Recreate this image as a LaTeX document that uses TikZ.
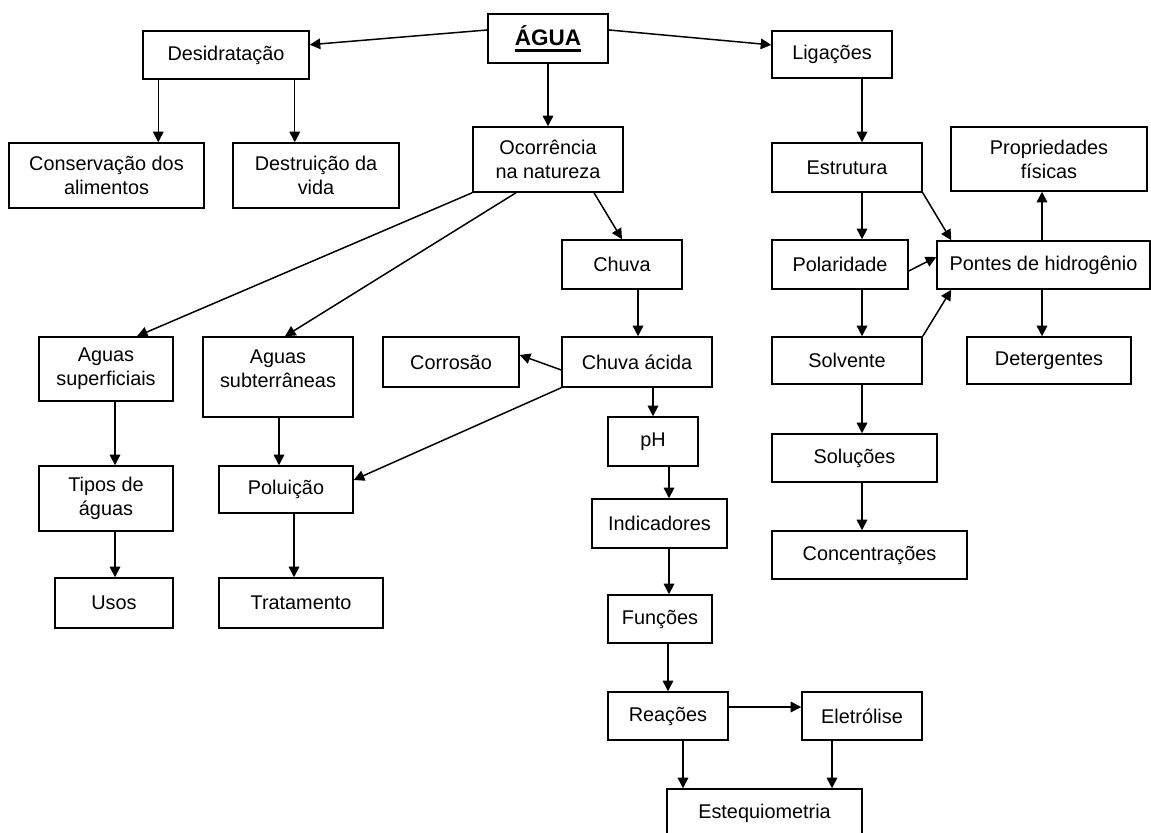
\documentclass[tikz,border=0pt]{standalone}
\usepackage{fontspec}
\setmainfont{Liberation Sans}
\usetikzlibrary{arrows.meta,calc}
\newcommand{\thickul}[1]{\vtop{\hbox{#1}\kern2.2pt\hrule height1.2pt}}
\tikzset{concept/.style={draw,line width=0.85pt,align=center,inner sep=2pt,font=\fontsize{11.3}{13.6}\selectfont},sz/.style 2 args={minimum width=#1*0.02cm,minimum height=#2*0.02cm},edge/.style={-{Triangle[length=6pt,width=6pt]},line width=0.85pt}}

\begin{document}
\begin{tikzpicture}[x=0.02cm,y=-0.02cm]
\clip (0,0) rectangle (1151,832);
\fill[white] (0,0) rectangle (1151,832);
% top row
\node[concept,sz={120}{49},font=\fontsize{12.8}{15}\selectfont\bfseries] (agua) at (548,38.5) {\thickul{ÁGUA}};
\node[concept,sz={166}{48}] (desid) at (226,55) {Desidratação};
\node[concept,sz={120}{47}] (ligac) at (832,54.5) {Ligações};
\node[concept,sz={195}{65}] (conserv) at (106.5,175.5) {Conservação dos\\alimentos};
\node[concept,sz={166}{65}] (destr) at (316,175.5) {Destruição da\\vida};
\node[concept,sz={150}{65}] (ocorr) at (548,159.5) {Ocorrência\\na natureza};
\node[concept,sz={150}{49}] (estrut) at (847,167.5) {Estrutura};
\node[concept,sz={196}{64}] (propr) at (1049,159) {Propriedades\\físicas};
\node[concept,sz={120}{49}] (chuva) at (622,264.5) {Chuva};
\node[concept,sz={136}{49}] (polar) at (840,264.5) {Polaridade};
\node[concept,sz={213}{48}] (pontes) at (1043.5,265) {Pontes de hidrogênio};
% middle
\node[concept,sz={134}{64}] (asup) at (106,369) {Aguas\\superficiais};
\node[concept,sz={150}{80}] (asub) at (278,377) {Aguas\\subterrâneas\rule[-9.5pt]{0pt}{9.5pt}};
\node[concept,sz={136}{50}] (corros) at (451,362) {Corrosão};
\node[concept,sz={150}{50}] (chacid) at (637,362) {Chuva ácida};
\node[concept,sz={150}{47}] (solv) at (847,360.5) {Solvente};
\node[concept,sz={164}{47}] (deterg) at (1049,360.5) {Detergentes};
\node[concept,sz={90}{49}] (ph) at (653,441.5) {pH};
\node[concept,sz={134}{65}] (tipos) at (106,498.5) {Tipos de\\águas};
\node[concept,sz={134}{47}] (polui) at (286,489.5) {Poluição};
\node[concept,sz={165}{48}] (solu) at (854.5,458) {Soluções};
\node[concept,sz={135}{49}] (indic) at (659.5,523.5) {Indicadores};
\node[concept,sz={195}{48}] (conc) at (869.5,555) {Concentrações};
% bottom
\node[concept,sz={118}{50}] (usos) at (114,603) {Usos};
\node[concept,sz={164}{50}] (trat) at (301,603) {Tratamento};
\node[concept,sz={104}{48}] (func) at (660,619) {Funções};
\node[concept,sz={120}{48}] (reac) at (668,716) {Reações};
\node[concept,sz={120}{48}] (eletr) at (862,716) {Eletrólise};
\node[concept,sz={195}{48}] (esteq) at (764.5,813) {Estequiometria};
% links
\draw[edge] (agua.172) -- (desid.7);\draw[edge] (agua.8) -- (ligac.171);\draw[edge] (agua.south) -- (ocorr.north);
\draw[edge] ($(desid.south west)+(16,0)$) coordinate (p) -- (p |- conserv.north);
\draw[edge] ($(desid.south east)+(-15,0)$) coordinate (p) -- (p |- destr.north);
\draw[edge] (ocorr.south west) -- ($(asup.north)+(31,0)$);
\draw[edge] ($(ocorr.south)+(-32,0)$) -- ($(asub.north)+(7,0)$);
\draw[edge] ($(ocorr.south)+(46,0)$) -- (chuva.north);
\draw[edge] ($(chuva.south)+(16,0)$) coordinate (p) -- (p |- chacid.north);
\draw[edge] ($(chacid.west)+(0,8)$) -- ($(corros.east)+(0,-7)$);
\draw[edge] (chacid.south west) -- ($(polui.east)+(0,-9.5)$);
\draw[edge] (chacid.south -| ph.north) -- (ph.north);
\draw[edge] ($(ph.south)+(16,0)$) coordinate (p) -- (p |- indic.north);
\draw[edge] ($(indic.south)+(9.5,0)$) coordinate (p) -- (p |- func.north);
\draw[edge] ($(func.south)+(8,0)$) coordinate (p) -- (p |- reac.north);
\draw[edge] ($(reac.east)+(0,-9)$) coordinate (p) -- (p -| eletr.west);
\draw[edge] ($(reac.south)+(15,0)$) coordinate (p) -- (p |- esteq.north);
\draw[edge] ($(eletr.south)+(-30,0)$) coordinate (p) -- (p |- esteq.north);
\draw[edge] ($(asup.south)+(9,0)$) coordinate (p) -- (p |- tipos.north);
\draw[edge] ($(tipos.south)+(9,0)$) coordinate (p) -- (p |- usos.north);
\draw[edge] ($(asub.south)+(1,0)$) coordinate (p) -- (p |- polui.north);
\draw[edge] ($(polui.south)+(8,0)$) coordinate (p) -- (p |- trat.north);
\draw[edge] ($(ligac.south)+(30,0)$) coordinate (p) -- (p |- estrut.north);
\draw[edge] ($(estrut.south)+(15,0)$) coordinate (p) -- (p |- polar.north);
\draw[edge] ($(polar.south)+(22,0)$) coordinate (p) -- (p |- solv.north);
\draw[edge] ($(solv.south)+(15,0)$) coordinate (p) -- (p |- solu.north);
\draw[edge] ($(solu.south)+(7.5,0)$) coordinate (p) -- (p |- conc.north);
\draw[edge] (estrut.south east) -- ($(pontes.north west)+(15,0)$);
\draw[edge] ($(polar.east)+(0,6.5)$) -- ($(pontes.west)+(0,-8)$);
\draw[edge] (solv.north east) -- ($(pontes.south west)+(15,0)$);
\draw[edge] ($(pontes.north)+(-1.5,0)$) coordinate (p) -- (p |- propr.south);
\draw[edge] ($(pontes.south)+(-1.5,0)$) coordinate (p) -- (p |- deterg.north);
\end{tikzpicture}
\end{document}
